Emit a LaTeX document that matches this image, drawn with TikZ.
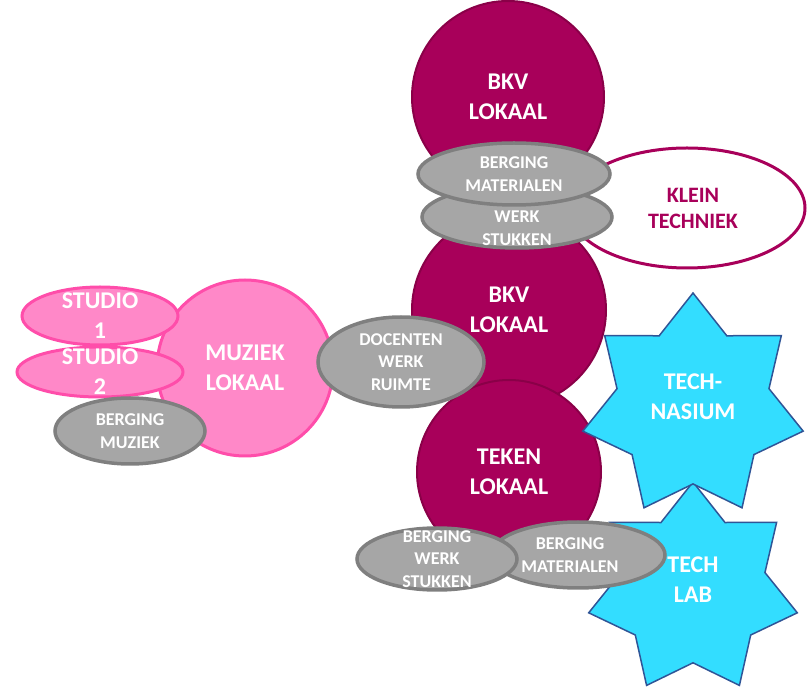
\documentclass[tikz,border=0pt]{standalone}
\usepackage{fontspec}
\setmainfont{Carlito}
\usetikzlibrary{shapes.geometric}

\definecolor{bkvred}{HTML}{A8005A}
\definecolor{bkvedge}{HTML}{8A0048}
\definecolor{muziekpink}{HTML}{FF88C8}
\definecolor{muziekedge}{HTML}{FF4DAA}
\definecolor{berggrey}{HTML}{A6A6A6}
\definecolor{bergedge}{HTML}{7F7F7F}
\definecolor{techcyan}{HTML}{33DDFF}
\definecolor{techedge}{HTML}{2F5597}

\begin{document}
\begin{tikzpicture}[x=1pt, y=-1pt,
    bigtext/.style={font=\fontsize{24}{30}\selectfont\bfseries, text=white, align=center},
    smalltext/.style={font=\fontsize{18}{22.5}\selectfont\bfseries, text=white, align=center},
    lokaal/.style={circle, fill=bkvred, draw=bkvedge, line width=2pt, inner sep=0pt},
    muziek/.style={fill=muziekpink, draw=muziekedge, line width=3pt, inner sep=0pt},
    berging/.style={ellipse, fill=berggrey, draw=bergedge, line width=3.5pt, inner sep=0pt},
    techstar/.style={star, star points=7, star point ratio=1.45, fill=techcyan,
        draw=techedge, line width=1.5pt, inner sep=0pt}
  ]
    \useasboundingbox (0,0) rectangle (807,692);

    % Klein techniek (behind the storage rooms)
    \node[ellipse, fill=white, draw=bkvred, line width=3pt, inner sep=0pt,
        minimum width=236pt, minimum height=120pt,
        label={[font=\fontsize{22}{26}\selectfont\bfseries, text=bkvred, align=center, xshift=6pt]center:KLEIN\\TECHNIEK}]
        (klein) at (687,208) {};

    % BKV and teken lokalen
    \node[lokaal, minimum size=192pt, label={[bigtext]center:BKV\\LOKAAL}] (bkv1) at (508,97) {};
    \node[lokaal, minimum size=194pt, label={[bigtext]center:BKV\\LOKAAL}] (bkv2) at (509,310) {};
    \node[lokaal, minimum size=184pt, label={[bigtext]center:TEKEN\\LOKAAL}] (teken) at (509,472) {};

    % Muziek
    \node[muziek, circle, minimum size=176pt, label={[bigtext]center:MUZIEK\\LOKAAL}] (muz) at (245,368) {};
    \node[muziek, ellipse, minimum width=156pt, minimum height=58pt,
        label={[bigtext]center:STUDIO\\1}] (studio1) at (100,316) {};
    \node[muziek, ellipse, minimum width=166pt, minimum height=50pt,
        label={[bigtext]center:STUDIO\\2}] (studio2) at (100,372) {};
    \node[berging, minimum width=150pt, minimum height=66pt,
        label={[smalltext]center:BERGING\\MUZIEK}] (bergmuz) at (130,431) {};

    % Docenten werkruimte
    \node[berging, minimum width=166pt, minimum height=90pt,
        label={[smalltext]center:DOCENTEN\\WERK\\RUIMTE}] (docent) at (401,362) {};

    % Bergingen bij BKV
    \node[berging, minimum width=190pt, minimum height=62pt,
        label={[smalltext, yshift=-11pt]center:WERK\\STUKKEN}] (werk1) at (517,217) {};
    \node[berging, minimum width=192pt, minimum height=62pt,
        label={[smalltext]center:BERGING\\MATERIALEN}] (mat1) at (514,174) {};

    % Techniek
    \node[techstar, minimum size=214pt, label={[bigtext, yshift=9pt]center:TECH\\LAB}] (lab) at (693,589) {};
    \node[techstar, minimum size=226pt, label={[bigtext, yshift=9pt]center:TECH-\\NASIUM}] (techn) at (693,406) {};

    % Bergingen bij teken lokaal
    \node[berging, minimum width=174pt, minimum height=66pt,
        label={[smalltext, xshift=-8pt]center:BERGING\\MATERIALEN}] (mat2) at (578,555) {};
    \node[berging, minimum width=160pt, minimum height=62pt,
        label={[smalltext]center:BERGING\\WERK\\STUKKEN}] (werk2) at (437,559) {};
\end{tikzpicture}
\end{document}
